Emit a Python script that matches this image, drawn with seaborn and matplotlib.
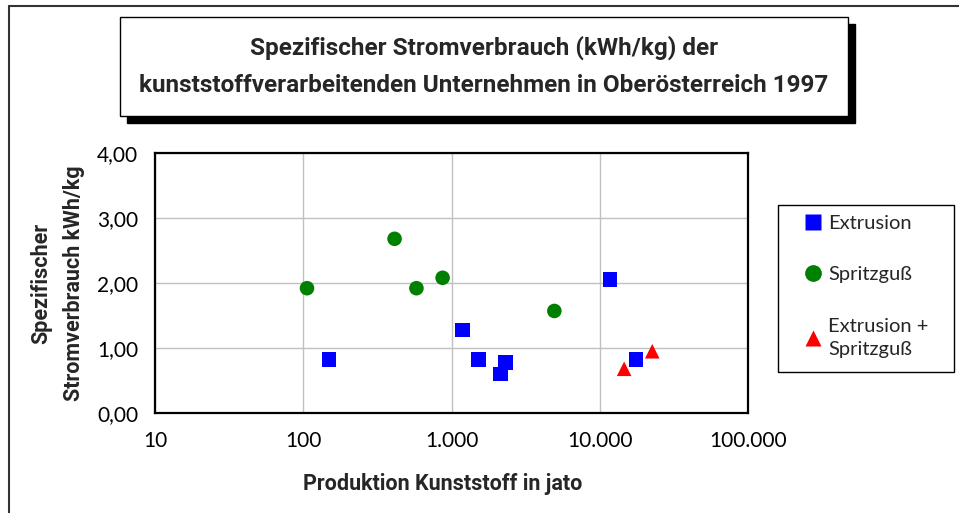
import pandas as pd
import matplotlib.pyplot as plt
import matplotlib.patches as mpatches
import matplotlib.lines as mlines
import matplotlib.ticker as mticker
import seaborn as sns

# values
extrusion_x = [149, 1186, 1520, 2140, 2310, 11750, 17600]
extrusion_y = [0.82, 1.28, 0.82, 0.60, 0.78, 2.05, 0.82]
spritzguss_x = [106, 413, 580, 871, 4940]
spritzguss_y = [1.92, 2.68, 1.92, 2.08, 1.57]
kombi_x = [14600, 22600]
kombi_y = [0.68, 0.95]

groups = ["Extrusion", "Spritzguß", "Extrusion +\nSpritzguß"]
colors = ["#0000ff", "#008000", "#ff0000"]
markers = ["s", "o", "^"]
x_ticks = [10, 100, 1000, 10000, 100000]
x_labels = ["10", "100", "1.000", "10.000", "100.000"]
y_ticks = [0, 1, 2, 3, 4]
y_labels = ["0,00", "1,00", "2,00", "3,00", "4,00"]

df = pd.DataFrame({
    "x": extrusion_x + spritzguss_x + kombi_x,
    "y": extrusion_y + spritzguss_y + kombi_y,
    "Gruppe": [groups[0]] * len(extrusion_x) + [groups[1]] * len(spritzguss_x) + [groups[2]] * len(kombi_x),
})

sns.set_style("white")
plt.rcParams["font.family"] = ["Lato", "DejaVu Sans"]
bold_font = ["Roboto", "DejaVu Sans"]

W, H = 959, 513
fig = plt.figure(figsize=(W / 100, H / 100), dpi=100)
ax = fig.add_axes([155 / W, (H - 413) / H, 593 / W, 260 / H])

sns.scatterplot(data=df, x="x", y="y", hue="Gruppe", style="Gruppe",
                hue_order=groups, style_order=groups,
                palette=dict(zip(groups, colors)), markers=dict(zip(groups, markers)),
                s=110, edgecolor="none", ax=ax, zorder=3)

ax.set_xscale("log")
ax.set_xlim(10, 100000)
ax.set_ylim(0, 4)
ax.set_xticks(x_ticks)
ax.set_xticklabels(x_labels)
ax.xaxis.set_minor_locator(mticker.NullLocator())
ax.set_yticks(y_ticks)
ax.set_yticklabels(y_labels)
ax.tick_params(axis="x", direction="inout", length=8, width=1.2, labelsize=15, pad=9, colors="black")
ax.tick_params(axis="y", direction="out", length=5, width=1.2, labelsize=15, pad=7, colors="black")
ax.grid(True, color="#c0c0c0", linewidth=1)
for sp in ax.spines.values():
    sp.set_color("black")
    sp.set_linewidth(1.6)

ax.set_xlabel("Produktion Kunststoff in jato", fontsize=15.5, fontweight="bold",
              family=bold_font, labelpad=16)
ax.xaxis.label.set_x(0.485)
ax.set_ylabel("Spezifischer\nStromverbrauch kWh/kg", fontsize=15.5, fontweight="bold",
              family=bold_font, labelpad=9, linespacing=1.6)

sns.move_legend(ax, "upper left", bbox_to_anchor=(803 / W, (H - 215) / H), bbox_transform=fig.transFigure,
                title=None, frameon=False, fontsize=14.5, labelspacing=1.7, markerscale=1.15,
                handletextpad=0.25, handlelength=1.0, borderpad=0, borderaxespad=0)
leg = ax.get_legend()
for t in leg.get_texts():
    t.set_linespacing(1.45)

# legend frame
fig.patches.append(mpatches.Rectangle((778 / W, (H - 372) / H), 176 / W, 167 / H, transform=fig.transFigure,
                                      fill=False, edgecolor="black", linewidth=1.0))
# outer frame (left and top edges)
fig.lines.append(mlines.Line2D([9 / W, 9 / W], [0, (H - 6) / H], transform=fig.transFigure,
                               color="#333333", linewidth=1.5))
fig.lines.append(mlines.Line2D([9 / W, 1], [(H - 6) / H, (H - 6) / H], transform=fig.transFigure,
                               color="#333333", linewidth=1.5))
# title box with shadow
fig.patches.append(mpatches.Rectangle((127 / W, (H - 123) / H), 728 / W, 99 / H, transform=fig.transFigure,
                                      facecolor="black", edgecolor="black"))
fig.patches.append(mpatches.Rectangle((120 / W, (H - 116) / H), 728 / W, 99 / H, transform=fig.transFigure,
                                      facecolor="white", edgecolor="black", linewidth=1))
fig.text(484 / W, (H - 48) / H, "Spezifischer Stromverbrauch (kWh/kg) der", ha="center", va="center",
         fontsize=17.5, fontweight="bold", family=bold_font)
fig.text(484 / W, (H - 86) / H, "kunststoffverarbeitenden Unternehmen in Oberösterreich 1997", ha="center",
         va="center", fontsize=17.5, fontweight="bold", family=bold_font)

fig.savefig("out.png", dpi=100)
